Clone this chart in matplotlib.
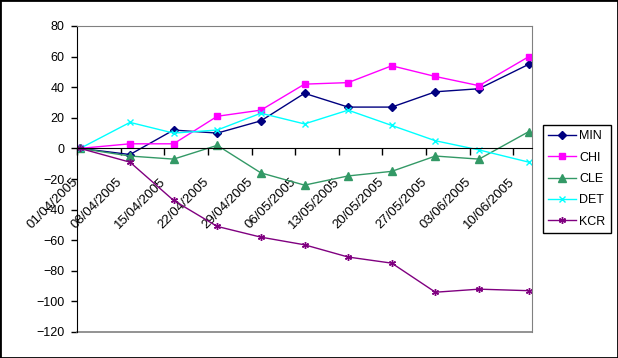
import matplotlib
matplotlib.use('Agg')
import matplotlib.pyplot as plt
import matplotlib.patches as patches
import numpy as np
from matplotlib.transforms import ScaledTranslation

plt.rcParams['font.family'] = ['Liberation Sans', 'DejaVu Sans']

# data
start = np.datetime64('2005-04-01')
end = np.datetime64('2005-06-13')
dates = ['2005-04-01', '2005-04-09', '2005-04-16', '2005-04-23', '2005-04-30', '2005-05-07',
         '2005-05-14', '2005-05-21', '2005-05-28', '2005-06-04', '2005-06-12']
tick_dates = ['2005-04-01', '2005-04-08', '2005-04-15', '2005-04-22', '2005-04-29', '2005-05-06',
              '2005-05-13', '2005-05-20', '2005-05-27', '2005-06-03', '2005-06-10']
tick_labels = ['01/04/2005', '08/04/2005', '15/04/2005', '22/04/2005', '29/04/2005', '06/05/2005',
               '13/05/2005', '20/05/2005', '27/05/2005', '03/06/2005', '10/06/2005']
MIN = [0, -4, 12, 10, 18, 36, 27, 27, 37, 39, 55]
CHI = [0, 3, 3, 21, 25, 42, 43, 54, 47, 41, 60]
CLE = [0, -5, -7, 2, -16, -24, -18, -15, -5, -7, 11]
DET = [0, 17, 10, 12, 23, 16, 25, 15, 5, -1, -9]
KCR = [0, -9, -34, -51, -58, -63, -71, -75, -94, -92, -93]

# Excel date axis: points sit in the middle of their day
x = np.array([(np.datetime64(d) - start).astype(int) for d in dates]) + 0.5
xt = np.array([(np.datetime64(d) - start).astype(int) for d in tick_dates])
x_end = (end - start).astype(int)

fig = plt.figure(figsize=(6.18, 3.58), dpi=100)
ax = fig.add_axes([77/618, 1 - 332/358, (532-77)/618, (332-26)/358])

ax.plot(x, MIN, color='#000080', marker='D', markersize=4.5, lw=1, label='MIN')
ax.plot(x, CHI, color='#FF00FF', marker='s', markersize=5, lw=1, label='CHI')
ax.plot(x, CLE, color='#339966', marker='^', markersize=6, lw=1, label='CLE')
ax.plot(x, DET, color='#00FFFF', marker='x', markersize=4.5, mew=1, lw=1, label='DET')
ax.plot(x, KCR, color='#800080', marker=(6, 2, 0), markersize=5, mew=1, lw=1, label='KCR')

ax.set_xlim(0, x_end)
ax.set_ylim(-120, 80)
ax.set_yticks(range(-120, 81, 20))

ax.spines['bottom'].set_position(('data', 0))
ax.spines['bottom'].set_color('black')
ax.spines['left'].set_color('black')
ax.spines['top'].set_color('#808080')
ax.spines['right'].set_color('#808080')
ax.plot([0, 1], [0, 0], transform=ax.transAxes, color='#808080', lw=1.2, clip_on=False)

ax.tick_params(axis='x', direction='out', length=5, width=1, pad=15, labelsize=9.5)
ax.tick_params(axis='y', direction='out', length=4, width=1, pad=5, labelsize=9)

ax.set_xticks(xt)
ax.set_xticklabels(tick_labels, rotation=45, ha='right', va='top', rotation_mode='anchor')
for lbl in ax.get_xticklabels():
    lbl.set_transform(lbl.get_transform() + ScaledTranslation(-5/100, 0, fig.dpi_scale_trans))

leg = ax.legend(loc='center left', bbox_to_anchor=(543/618, 1 - 179/358),
                bbox_transform=fig.transFigure, fontsize=9, fancybox=False,
                edgecolor='black', framealpha=1, handlelength=2.2, handletextpad=0.3,
                labelspacing=0.75, borderpad=0.4, borderaxespad=0)
leg.get_frame().set_linewidth(1)

fig.patches.append(patches.Rectangle((0, 0), 1, 1, transform=fig.transFigure, fill=False,
                                     edgecolor='black', lw=2))

fig.savefig('out.png', dpi=100)
